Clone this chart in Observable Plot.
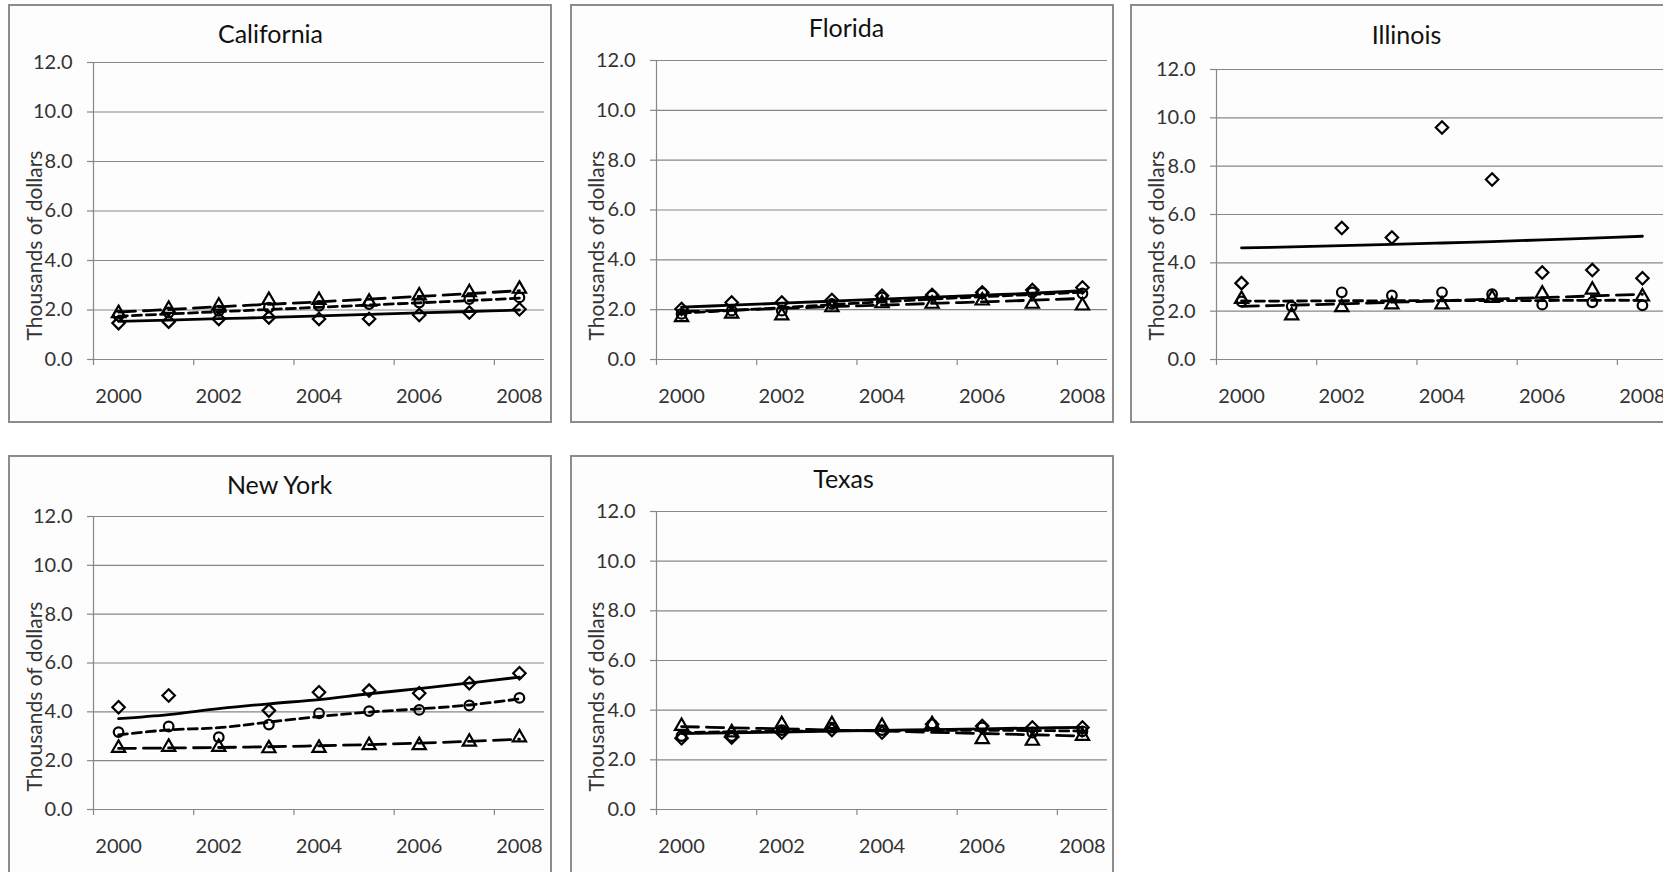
<!DOCTYPE html>
<html><head><meta charset="utf-8">
<script src="https://cdn.jsdelivr.net/npm/d3@7"></script>
<script src="https://cdn.jsdelivr.net/npm/@observablehq/plot@0.6"></script>
<style>
html,body{margin:0;padding:0;background:#fff;width:1663px;height:872px;overflow:hidden;}
.frame{position:absolute;box-sizing:border-box;border:2px solid #8c8c8c;background:#fdfdfd;}
.panel{position:absolute;}
.panel svg{overflow:visible;}
</style></head><body>
<script>
// ---- data ----
const years = [2000, 2001, 2002, 2003, 2004, 2005, 2006, 2007, 2008];
const xTickLabels = [2000, 2002, 2004, 2006, 2008];
const xTickMarks = [1999.5, 2001.5, 2003.5, 2005.5, 2007.5];
const yTicks = [0, 2, 4, 6, 8, 10, 12];
const states = ["California", "Florida", "Illinois", "New York", "Texas"];
const yLabel = "Thousands of dollars";

// California
const caDiamond  = [1.47, 1.53, 1.64, 1.70, 1.64, 1.64, 1.80, 1.90, 2.03];
const caCircle   = [1.77, 1.90, 1.97, 2.10, 2.17, 2.24, 2.30, 2.44, 2.51];
const caTriangle = [1.87, 2.04, 2.17, 2.40, 2.40, 2.33, 2.58, 2.71, 2.85];
const caTrendD   = [1.54, 1.59, 1.65, 1.70, 1.76, 1.82, 1.88, 1.94, 2.00];
const caTrendC   = [1.75, 1.84, 1.93, 2.02, 2.11, 2.20, 2.29, 2.38, 2.48];
const caTrendT   = [1.92, 2.02, 2.13, 2.23, 2.33, 2.44, 2.55, 2.66, 2.78];
// Florida
const flDiamond  = [2.03, 2.29, 2.29, 2.39, 2.56, 2.59, 2.69, 2.79, 2.89];
const flCircle   = [1.83, 1.96, 1.96, 2.23, 2.49, 2.56, 2.67, 2.69, 2.65];
const flTriangle = [1.69, 1.83, 1.76, 2.09, 2.25, 2.23, 2.36, 2.23, 2.16];
const flTrendD   = [2.10, 2.18, 2.26, 2.34, 2.42, 2.50, 2.58, 2.66, 2.76];
const flTrendC   = [1.86, 1.97, 2.08, 2.20, 2.31, 2.42, 2.52, 2.61, 2.70];
const flTrendT   = [1.92, 1.98, 2.05, 2.12, 2.18, 2.25, 2.31, 2.38, 2.45];
// Illinois
const ilDiamond  = [3.16, null, 5.44, 5.05, 9.60, 7.45, 3.60, 3.70, 3.36];
const ilCircle   = [2.40, 2.20, 2.78, 2.65, 2.78, 2.70, 2.27, 2.37, 2.24];
const ilTriangle = [2.50, 1.82, 2.16, 2.27, 2.27, 2.54, 2.72, 2.88, 2.60];
const ilTrendD   = [4.62, 4.66, 4.71, 4.76, 4.82, 4.88, 4.95, 5.02, 5.10];
const ilTrendC   = [2.42, 2.42, 2.43, 2.43, 2.44, 2.44, 2.44, 2.45, 2.45];
const ilTrendT   = [2.20, 2.25, 2.30, 2.37, 2.43, 2.50, 2.56, 2.63, 2.70];
// New York
const nyDiamond  = [4.19, 4.67, null, 4.05, 4.80, 4.87, 4.76, 5.17, 5.58];
const nyCircle   = [3.17, 3.40, 2.96, 3.48, 3.94, 4.03, 4.08, 4.26, 4.57];
const nyTriangle = [2.52, 2.56, 2.56, 2.50, 2.52, 2.63, 2.63, 2.77, 2.95];
const nyTrendD   = [3.72, 3.89, 4.13, 4.33, 4.50, 4.74, 4.95, 5.18, 5.42];
const nyTrendC   = [3.06, 3.26, 3.35, 3.58, 3.81, 3.99, 4.12, 4.28, 4.53];
const nyTrendT   = [2.50, 2.52, 2.54, 2.57, 2.61, 2.66, 2.72, 2.79, 2.88];
// Texas
const txDiamond  = [2.87, 2.90, 3.10, 3.20, 3.10, 3.43, 3.36, 3.30, 3.30];
const txCircle   = [2.96, 2.96, 3.20, 3.30, 3.20, 3.43, 3.30, 3.10, 3.15];
const txTriangle = [3.36, 3.10, 3.43, 3.43, 3.36, 3.43, 2.83, 2.76, 2.96];
const txTrendD   = [3.06, 3.09, 3.12, 3.16, 3.19, 3.22, 3.25, 3.28, 3.31];
const txTrendC   = [3.10, 3.13, 3.15, 3.17, 3.18, 3.19, 3.19, 3.18, 3.16];
const txTrendT   = [3.34, 3.29, 3.25, 3.20, 3.16, 3.11, 3.06, 3.01, 2.96];

// ---- layout ----
const W = 544, H = 419;
const GRID = "#878787", TEXT = "#333333";
const FONT = "Lato, 'Open Sans', sans-serif";
const layout = [
  {ox: 8,    oy: 4,   ml: 85, mr: 8, mt: 58, mb: 64, tx: 262, ty: 30},
  {ox: 570,  oy: 4,   ml: 86, mr: 7, mt: 56, mb: 64, tx: 276, ty: 24},
  {ox: 1130, oy: 4,   ml: 86, mr: 7, mt: 65, mb: 64, tx: 276, ty: 31},
  {ox: 8,    oy: 455, ml: 85, mr: 8, mt: 61, mb: 65, tx: 271, ty: 30},
  {ox: 570,  oy: 455, ml: 86, mr: 7, mt: 56, mb: 65, tx: 273, ty: 24}
];
const seriesByState = [
  [caDiamond, caCircle, caTriangle, caTrendD, caTrendC, caTrendT],
  [flDiamond, flCircle, flTriangle, flTrendD, flTrendC, flTrendT],
  [ilDiamond, ilCircle, ilTriangle, ilTrendD, ilTrendC, ilTrendT],
  [nyDiamond, nyCircle, nyTriangle, nyTrendD, nyTrendC, nyTrendT],
  [txDiamond, txCircle, txTriangle, txTrendD, txTrendC, txTrendT]
];

function rows(vals) {
  return years.map((year, i) => ({year, v: vals[i]})).filter(d => d.v != null);
}

states.forEach((state, k) => {
  const L = layout[k];
  const [dD, dC, dT, tD, tC, tT] = seriesByState[k];

  const frame = document.createElement("div");
  frame.className = "frame";
  Object.assign(frame.style, {left: L.ox + "px", top: L.oy + "px", width: W + "px", height: H + "px"});
  document.body.appendChild(frame);

  const chart = Plot.plot({
    width: W, height: H,
    marginLeft: L.ml, marginRight: L.mr, marginTop: L.mt, marginBottom: L.mb,
    x: {domain: [1999.5, 2008.5]},
    y: {domain: [0, 12]},
    style: {fontFamily: FONT, background: "transparent", color: TEXT},
    marks: [
      Plot.ruleY(yTicks, {x1: 1999.5, x2: 2008.5, stroke: GRID, strokeWidth: 1.2}),
      Plot.ruleX([1999.5], {y1: 0, y2: 12, stroke: GRID, strokeWidth: 1.2}),
      Plot.axisY({ticks: yTicks, tickSize: 6, tickPadding: 15, tickFormat: d => d.toFixed(1),
                  stroke: GRID, strokeWidth: 1.2, fill: TEXT, fontSize: 20, label: null}),
      Plot.axisX({ticks: xTickMarks, tickSize: 6, tickFormat: () => "", stroke: GRID, strokeWidth: 1.2, label: null}),
      Plot.axisX({ticks: xTickLabels, tickSize: 0, tickPadding: 29, tickFormat: d => String(d),
                  fill: TEXT, fontSize: 20, label: null}),
      Plot.dot(rows(dD), {x: "year", y: "v", symbol: "diamond2", r: 5.6, stroke: "#000", strokeWidth: 2.2, fill: "none"}),
      Plot.dot(rows(dC), {x: "year", y: "v", symbol: "circle", r: 4.8, stroke: "#000", strokeWidth: 2.2, fill: "none"}),
      Plot.dot(rows(dT), {x: "year", y: "v", symbol: "triangle2", r: 6.3, stroke: "#000", strokeWidth: 2.2, fill: "none"}),
      Plot.line(rows(tD), {x: "year", y: "v", stroke: "#000", strokeWidth: 2.8, curve: "catmull-rom"}),
      Plot.line(rows(tC), {x: "year", y: "v", stroke: "#000", strokeWidth: 2.8, strokeDasharray: "9,5", curve: "catmull-rom"}),
      Plot.line(rows(tT), {x: "year", y: "v", stroke: "#000", strokeWidth: 2.8, strokeDasharray: "17,8", curve: "catmull-rom"}),
      Plot.text([state], {frameAnchor: "top-left", dx: L.tx - L.ml, dy: L.ty - L.mt,
                          textAnchor: "middle", lineAnchor: "middle", fontSize: 25, fill: "#111"}),
      Plot.text([yLabel], {frameAnchor: "top-left", dx: 27 - L.ml, dy: 241 - L.mt, rotate: -90,
                           textAnchor: "middle", lineAnchor: "middle", fontSize: 21, fill: TEXT})
    ]
  });
  const wrap = document.createElement("div");
  wrap.className = "panel";
  Object.assign(wrap.style, {left: L.ox + "px", top: L.oy + "px", width: W + "px", height: H + "px"});
  wrap.appendChild(chart);
  document.body.appendChild(wrap);
});
</script>
</body></html>
